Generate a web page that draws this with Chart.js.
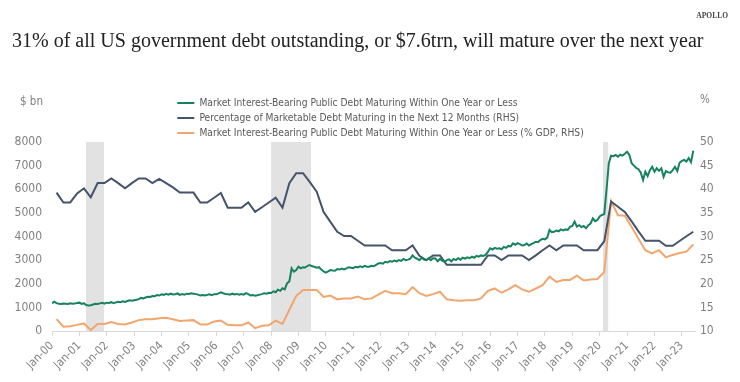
<!DOCTYPE html>
<html>
<head>
<meta charset="utf-8">
<script src="https://cdn.jsdelivr.net/npm/chart.js@4.4.1/dist/chart.umd.min.js"></script>
<style>
  html, body { margin: 0; padding: 0; background: #fff; }
  #wrap { width: 740px; height: 382px; }
</style>
</head>
<body>
<div id="wrap"><canvas id="grafico"></canvas></div>
<script>
const FONT = '"Liberation Sans Narrow", "DejaVu Sans Condensed", "Open Sans", sans-serif';

const seriesNames = [
    "Market Interest-Bearing Public Debt Maturing Within One Year or Less",
    "Percentage of Marketable Debt Maturing in the Next 12 Months (RHS)",
    "Market Interest-Bearing Public Debt Maturing Within One Year or Less (% GDP, RHS)"
];

// $ bn, monthly, Jan-00 .. Jun-23
const debtMonthly = [
    1170, 1240, 1180, 1150, 1140, 1160, 1150, 1140, 1170, 1150, 1160, 1190,
    1200, 1150, 1170, 1100, 1080, 1090, 1120, 1150, 1140, 1170, 1190, 1160,
    1200, 1190, 1220, 1180, 1210, 1240, 1220, 1260, 1230, 1270, 1300, 1280,
    1300, 1320, 1350, 1400, 1380, 1420, 1450, 1440, 1480, 1470, 1520, 1500,
    1550, 1530, 1570, 1540, 1580, 1550, 1560, 1590, 1530, 1560, 1540, 1580,
    1570, 1600, 1580, 1560, 1540, 1500, 1520, 1500, 1530, 1550, 1520, 1560,
    1560, 1590, 1640, 1600, 1570, 1560, 1540, 1580, 1550, 1570, 1540, 1560,
    1540, 1600, 1560, 1500, 1520, 1490, 1510, 1540, 1560, 1600, 1580, 1620,
    1610, 1680, 1640, 1750, 1700, 1810, 1760, 2020, 2100, 2650, 2510, 2580,
    2720, 2650, 2700, 2690, 2760, 2790, 2740, 2720, 2680, 2700, 2600, 2520,
    2470, 2520, 2580, 2560, 2550, 2620, 2600, 2640, 2610, 2650, 2700, 2680,
    2660, 2720, 2690, 2740, 2700, 2760, 2720, 2720, 2760, 2740, 2800, 2860,
    2880, 2850, 2930, 2900, 2960, 2930, 2980, 2950, 3000, 2970, 3050, 3000,
    3020, 3060, 3200, 3100, 3060, 3000, 3100, 3020, 3000, 3070, 3000, 3080,
    3070, 2950, 3050, 2980, 2920, 3000, 3030, 2950, 3050, 3000, 3080, 3020,
    3100, 3060, 3120, 3080, 3150, 3100, 3180, 3150, 3200, 3180, 3220, 3350,
    3500, 3450, 3520, 3480, 3500, 3460, 3560, 3520, 3600, 3580, 3710, 3650,
    3720, 3680, 3620, 3640, 3700, 3620, 3680, 3720, 3780, 3760, 3850, 3900,
    3880, 3950, 4280, 4180, 4200, 4250, 4220, 4300, 4260, 4300, 4280, 4410,
    4450, 4630, 4420, 4480, 4400, 4450, 4350, 4480, 4550, 4770, 4650, 4700,
    4850, 4910, 4950, 6000, 7100, 7420, 7400, 7450, 7380, 7460, 7420, 7500,
    7590, 7450, 7100, 7000, 6900, 6850, 6700, 6390, 6740, 6560, 6810, 6950,
    6740, 6890, 6780, 6890, 6530, 6770, 6720, 6700, 6810, 6950, 6770, 7120,
    7200, 7240, 7170, 7320, 7150, 7630
];

// %, quarterly, Mar-00 .. Jun-23
const shareNext12m = [
    39.3, 37.2, 37.2, 39.1, 40.2, 38.3, 41.3, 41.3, 42.3, 41.3,
    40.2, 41.3, 42.3, 42.3, 41.3, 42.2, 41.3, 40.4, 39.3, 39.3,
    39.3, 37.2, 37.2, 38.2, 39.2, 36.1, 36.1, 36.1, 37.2, 35.2,
    36.2, 37.2, 38.2, 36.1, 41.3, 43.4, 43.4, 41.5, 39.5, 35.2,
    33.1, 31.0, 30.1, 30.1, 29.1, 28.1, 28.1, 28.1, 28.1, 27.1,
    27.1, 27.1, 28.1, 25.9, 25.0, 26.0, 26.0, 24.0, 24.0, 24.0,
    24.0, 24.0, 24.0, 26.0, 26.0, 25.0, 26.0, 26.0, 26.0, 25.0,
    26.0, 27.1, 28.1, 27.1, 28.1, 28.1, 28.1, 27.1, 27.1, 27.1,
    29.0, 37.4, 36.3, 35.2, 33.2, 31.1, 29.1, 29.1, 29.1, 28.05,
    28.05, 29.05, 30.05, 31.0
];

// % GDP, quarterly, Mar-00 .. Jun-23
const shareGdp = [
    12.5, 10.9, 11.0, 11.3, 11.6, 10.2, 11.5, 11.5, 11.9, 11.5,
    11.4, 11.8, 12.3, 12.5, 12.5, 12.7, 12.8, 12.5, 12.1, 12.2,
    12.3, 11.4, 11.4, 12.0, 12.2, 11.3, 11.2, 11.2, 11.8, 10.6,
    11.1, 11.2, 12.2, 11.5, 14.5, 17.4, 18.7, 18.7, 18.7, 17.2,
    17.5, 16.7, 16.9, 16.9, 17.3, 16.7, 16.9, 17.7, 18.5, 18.0,
    18.0, 17.8, 19.3, 18.0, 17.4, 17.8, 18.3, 16.7, 16.5, 16.4,
    16.5, 16.5, 16.9, 18.5, 19.0, 18.1, 18.8, 19.7, 18.8, 18.3,
    19.0, 19.7, 21.5, 20.4, 20.8, 20.8, 21.7, 20.7, 20.9, 21.0,
    22.5, 37.5, 34.5, 34.4, 32.0, 29.5, 27.1, 26.4, 27.1, 25.6,
    26.1, 26.5, 26.8, 28.3
];

// recession bands, start/end in fractional years
const recessions = [[2001.24, 2001.9], [2008.0, 2009.46], [2020.12, 2020.31]];

const monthPos = i => 2000 + i / 12;
const quarterPos = i => 2000 + (3 * i + 2) / 12;

const extras = {
    id: "extras",
    beforeDraw(chart) {
        // legend rows left-aligned under each other
        chart.legend.left = 172.5;
        chart.legend.top = chart.chartArea.top - 49;
    },
    beforeDatasetsDraw(chart) {
        const { ctx, chartArea, scales } = chart;
        ctx.save();
        ctx.fillStyle = "#e2e2e2";
        recessions.forEach(([a, b]) => {
            const x1 = scales.x.getPixelForValue(a);
            const x2 = scales.x.getPixelForValue(b);
            ctx.fillRect(x1, chartArea.top, x2 - x1, chartArea.bottom - chartArea.top);
        });
        ctx.restore();
    },
    afterDraw(chart) {
        const { ctx, chartArea } = chart;
        ctx.save();
        ctx.fillStyle = "#7f7f7f";
        ctx.font = "11.5px " + FONT;
        ctx.textBaseline = "middle";
        ctx.textAlign = "left";
        ctx.fillText("$ bn", 20, chartArea.top - 40);
        ctx.fillText("%", chartArea.right + 5, chartArea.top - 42);
        ctx.restore();
    }
};

const ctx = document.getElementById("grafico").getContext("2d");
const chart = new Chart(ctx, {
    type: "line",
    data: {
        datasets: [
            {
                label: seriesNames[0],
                data: debtMonthly.map((v, i) => ({ x: monthPos(i), y: v })),
                borderColor: "#17825e",
                backgroundColor: "#17825e",
                borderWidth: 2,
                yAxisID: "y"
            },
            {
                label: seriesNames[1],
                data: shareNext12m.map((v, i) => ({ x: quarterPos(i), y: v })),
                borderColor: "#44546a",
                backgroundColor: "#44546a",
                borderWidth: 2,
                yAxisID: "y2"
            },
            {
                label: seriesNames[2],
                data: shareGdp.map((v, i) => ({ x: quarterPos(i), y: v })),
                borderColor: "#f2a66e",
                backgroundColor: "#f2a66e",
                borderWidth: 2,
                yAxisID: "y2"
            }
        ]
    },
    options: {
        responsive: true,
        maintainAspectRatio: false,
        animation: false,
        layout: { padding: { left: 12, right: 12, top: 0, bottom: 0 } },
        elements: { point: { radius: 0 }, line: { tension: 0 } },
        plugins: {
            tooltip: { enabled: false },
            title: {
                display: true,
                text: "APOLLO",
                align: "end",
                color: "#444",
                font: { family: "Liberation Serif, serif", size: 7.5 },
                padding: { top: 12, bottom: 4 }
            },
            subtitle: {
                display: true,
                text: "31% of all US government debt outstanding, or $7.6trn, will mature over the next year",
                align: "start",
                color: "#222",
                font: { family: "Liberation Serif, serif", size: 20 },
                padding: { top: 5, bottom: 33 }
            },
            legend: {
                position: "top",
                align: "start",
                labels: {
                    color: "#595959",
                    font: { family: FONT, size: 10.2 },
                    boxWidth: 17,
                    boxHeight: 2,
                    padding: 4.8,
                    generateLabels(c) {
                        const items = Chart.defaults.plugins.legend.labels.generateLabels(c);
                        items.forEach(it => {
                            it.text = it.text + " ".repeat(40);
                            it.lineWidth = 0;
                            it.fillStyle = it.strokeStyle;
                        });
                        return items;
                    }
                }
            }
        },
        scales: {
            x: {
                type: "linear",
                min: 2000,
                max: 2023.48,
                grid: { display: true, drawOnChartArea: false, drawTicks: true, tickLength: 5, color: "#d9d9d9" },
                border: { display: true, color: "#d9d9d9" },
                ticks: {
                    stepSize: 1,
                    includeBounds: false,
                    autoSkip: false,
                    minRotation: 45,
                    maxRotation: 45,
                    color: "#808080",
                    font: { family: FONT, size: 11.5 },
                    callback: v => "Jan-" + String(Math.round(v) % 100).padStart(2, "0")
                },
                afterFit: s => { s.height = 51; }
            },
            y: {
                position: "left",
                min: 0,
                max: 8000,
                grid: { display: false, drawTicks: false },
                border: { display: false },
                ticks: {
                    stepSize: 1000, padding: 10, color: "#808080",
                    font: { family: FONT, size: 12 },
                    callback: v => String(v)
                },
                afterFit: s => { s.width = 40; }
            },
            y2: {
                position: "right",
                min: 10,
                max: 50,
                grid: { display: false, drawTicks: false },
                border: { display: false },
                ticks: {
                    stepSize: 5, padding: 5, color: "#808080",
                    font: { family: FONT, size: 12 },
                    callback: v => String(v)
                },
                afterFit: s => { s.width = 33; }
            }
        }
    },
    plugins: [extras]
});
</script>
</body>
</html>
